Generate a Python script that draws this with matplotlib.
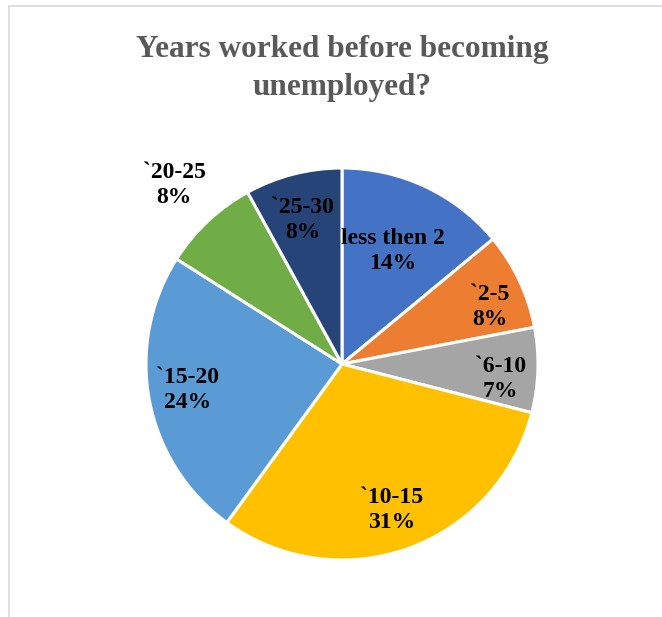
import matplotlib
matplotlib.use("Agg")
import matplotlib.pyplot as plt
from matplotlib.patches import Rectangle
import numpy as np

categories = ["less then 2", "`2-5", "`6-10", "`10-15", "`15-20", "`20-25", "`25-30"]
shares = [14, 8, 7, 31, 24, 8, 8]
colors = ["#4472C4", "#ED7D31", "#A5A5A5", "#FFC000", "#5B9BD5", "#70AD47", "#264478"]
# label placement: radial distance (fraction of radius) and angular nudge (degrees)
label_radius = [0.633, 0.81, 0.81, 0.787, 0.797, 1.25, 0.761]
label_shift = [-1.0, 4.0, 3.5, 1.0, 1.2, 0.0, -0.8]
title = "Years worked before becoming\nunemployed?"

W, H = 662, 617
dpi = 100
fig = plt.figure(figsize=(W / dpi, H / dpi), dpi=dpi)

# light chart-area frame
fig.patches.append(Rectangle((9 / W, -0.1), 1.1, (617 - 6) / H + 0.1,
                             transform=fig.transFigure, fill=False,
                             edgecolor="#D9D9D9", linewidth=1.2))

cx, cy, R = 342, 364, 196
lim = 1.4
half = lim * R
ax = fig.add_axes([(cx - half) / W, (H - cy - half) / H, 2 * half / W, 2 * half / H])
ax.axis("off")

wedges, _ = ax.pie(shares, colors=colors, startangle=90, counterclock=False,
                   radius=1.0, wedgeprops=dict(edgecolor="white", linewidth=2.2))
ax.set_xlim(-lim, lim)
ax.set_ylim(-lim, lim)
ax.set_aspect("equal")

font = dict(family="Liberation Serif", weight="bold", color="black", fontsize=17)
total = sum(shares)
cum = 0
for cat, v, r, s in zip(categories, shares, label_radius, label_shift):
    mid = (cum + v / 2) / total * 360 + s
    cum += v
    x = r * np.sin(np.radians(mid))
    y = r * np.cos(np.radians(mid))
    ax.text(x, y, f"{cat}\n{v}%", ha="center", va="center", linespacing=1.25, **font)

fig.text(cx / W, 1 - 68.5 / H, title, ha="center", va="center",
         family="Liberation Serif", weight="bold", color="#595959",
         fontsize=22.5, linespacing=1.4)

fig.savefig("out.png", dpi=dpi)
